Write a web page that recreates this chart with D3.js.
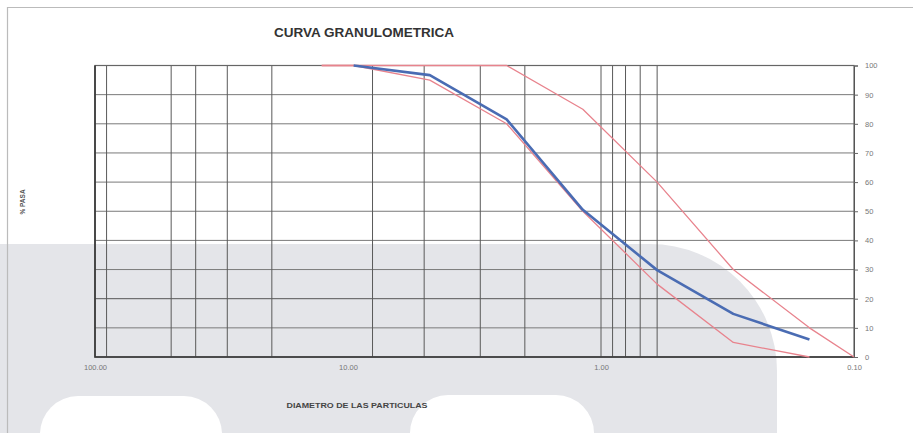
<!DOCTYPE html>
<html>
<head>
<meta charset="utf-8">
<script src="https://cdn.jsdelivr.net/npm/d3@7"></script>
<style>
  body { margin: 0; background: #fff; }
  svg { display: block; font-family: "Liberation Sans", Arial, sans-serif; }
</style>
</head>
<body>
<div class="chart"></div>
<script>
// tamices (mm) y % que pasa
const sieves = [12.7, 9.5, 4.75, 2.36, 1.18, 0.6, 0.3, 0.15, 0.1]
const muestra = [null, 100, 96.7, 81.5, 50.5, 29.8, 14.8, 6, null]
const limInferior = [100, 100, 95, 80, 50, 25, 5, 0, null]
const limSuperior = [100, 100, 100, 100, 85, 60, 30, 10, 0]

// lineas verticales de la grilla (mm)
const gridX = [90, 50, 40, 30, 20, 8, 5, 3, 2, 1, 0.9, 0.8, 0.7, 0.6]
const xTicks = [100, 10, 1, 0.1]
const yTicks = [0, 10, 20, 30, 40, 50, 60, 70, 80, 90, 100]

const width = 913
const height = 433
const margin = { top: 65.5, right: 59, bottom: 76, left: 95 }

const svg = d3.select('.chart')
    .append('svg')
    .attr('width', width)
    .attr('height', height)

// fondo del escaneo (marca de agua gris)
svg.append('rect').attr('width', width).attr('height', height).attr('fill', '#fff')
svg.append('path')
    .attr('d', 'M0,244 H650 A127,127 0 0 1 777,371 V433 H0 Z')
    .attr('fill', '#e4e5e9')
svg.append('rect')
    .attr('x', 40).attr('y', 396).attr('width', 182).attr('height', 80)
    .attr('rx', 38).attr('fill', '#fff')
svg.append('rect')
    .attr('x', 410).attr('y', 395).attr('width', 184).attr('height', 80)
    .attr('rx', 38).attr('fill', '#fff')

// marco de la hoja
svg.append('path')
    .attr('d', 'M7.5,433 V7.5 H913')
    .attr('fill', 'none')
    .attr('stroke', '#bbb')
    .attr('stroke-width', 1.2)

const x = d3.scaleLog()
    .domain([100, 0.1])
    .range([margin.left, width - margin.right])

const y = d3.scaleLinear()
    .domain([0, 100])
    .range([height - margin.bottom, margin.top])

// grilla horizontal
svg.append('g')
    .selectAll('line')
    .data(yTicks)
    .enter()
    .append('line')
    .attr('x1', x(100))
    .attr('x2', x(0.1))
    .attr('y1', d => y(d))
    .attr('y2', d => y(d))
    .attr('stroke', d => d === 20 ? '#555' : '#7a7a7a')
    .attr('stroke-width', 1)

// grilla vertical
svg.append('g')
    .selectAll('line')
    .data(gridX)
    .enter()
    .append('line')
    .attr('x1', d => x(d))
    .attr('x2', d => x(d))
    .attr('y1', y(100))
    .attr('y2', y(0))
    .attr('stroke', '#5a5a5a')
    .attr('stroke-width', 1)

// borde del grafico
svg.append('rect')
    .attr('x', x(100))
    .attr('y', y(100))
    .attr('width', x(0.1) - x(100))
    .attr('height', y(0) - y(100))
    .attr('fill', 'none')
    .attr('stroke', '#666')
    .attr('stroke-width', 1.2)
svg.append('path')
    .attr('d', `M${x(100)},${y(100)} V${y(0)} H${x(0.1)}`)
    .attr('fill', 'none')
    .attr('stroke', '#3a3a3a')
    .attr('stroke-width', 1.7)

// eje y a la derecha
const yAxis = svg.append('g')
    .attr('transform', `translate(${x(0.1)},0)`)
    .call(d3.axisRight(y).tickValues(yTicks).tickSize(4).tickPadding(7).tickFormat(d3.format('d')))
yAxis.select('.domain').attr('stroke', '#555')
yAxis.selectAll('line').attr('stroke', '#666')
yAxis.selectAll('text').attr('fill', '#777').style('font-size', '7.5px')

// eje x
const xAxis = svg.append('g')
    .attr('transform', `translate(0,${y(0)})`)
    .call(d3.axisBottom(x).tickValues(xTicks).tickSize(0).tickPadding(8).tickFormat(d3.format('.2f')))
xAxis.select('.domain').remove()
xAxis.selectAll('text').attr('fill', '#777').style('font-size', '7.5px')

// curvas
const line = values => d3.line()
    .defined((d, i) => values[i] != null)
    .x(d => x(d))
    .y((d, i) => y(values[i]))

const series = [
    { values: limInferior, color: '#e8838d', w: 1.3 },
    { values: limSuperior, color: '#e8838d', w: 1.3 },
    { values: muestra, color: '#4a6cb3', w: 2.6 }
]

svg.selectAll('.curva')
    .data(series)
    .enter()
    .append('path')
    .attr('class', 'curva')
    .attr('d', s => line(s.values)(sieves))
    .attr('fill', 'none')
    .attr('stroke', s => s.color)
    .attr('stroke-width', s => s.w)
    .attr('stroke-linejoin', 'round')

// textos
svg.append('text')
    .attr('x', 364)
    .attr('y', 37)
    .attr('text-anchor', 'middle')
    .attr('textLength', 180)
    .attr('lengthAdjust', 'spacingAndGlyphs')
    .style('font-size', '12px')
    .style('font-weight', 'bold')
    .attr('fill', '#333')
    .text('CURVA GRANULOMETRICA')

svg.append('text')
    .attr('x', 357)
    .attr('y', 408)
    .attr('text-anchor', 'middle')
    .attr('textLength', 141)
    .attr('lengthAdjust', 'spacingAndGlyphs')
    .style('font-size', '7px')
    .style('font-weight', 'bold')
    .attr('fill', '#444')
    .text('DIAMETRO DE LAS PARTICULAS')

svg.append('text')
    .attr('transform', 'translate(25,202) rotate(-90)')
    .attr('text-anchor', 'middle')
    .style('font-size', '6.5px')
    .style('font-weight', 'bold')
    .attr('fill', '#555')
    .text('% PASA')
</script>
</body>
</html>
